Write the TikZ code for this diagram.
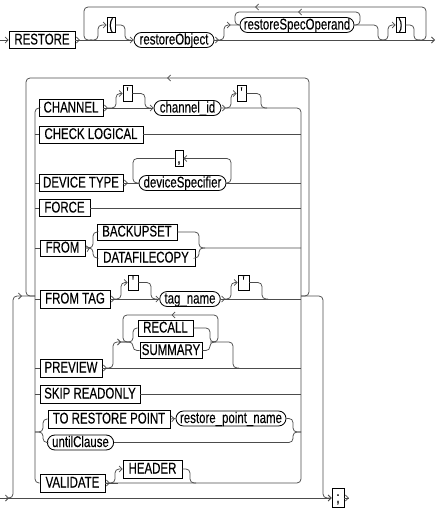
\documentclass[tikz,border=0pt]{standalone}
\usepackage{fontspec}
\setmainfont{Liberation Sans}[FakeStretch=0.74,FakeBold=0.2,Ligatures=TeXOff]
\usetikzlibrary{arrows.meta,shapes.misc,decorations.markings}
\begin{document}
\begin{tikzpicture}[x=1pt,y=-1pt,
  rr/.style={draw=black!70, color=black!70, line width=0.75pt, rounded corners=4pt},
  kw/.style={draw=black, line width=0.85pt, inner xsep=1pt, inner ysep=0pt, text height=11pt, text depth=2pt, minimum height=17pt, font=\fontsize{15.5}{17}\selectfont, text=black},
  sm/.style={kw, minimum height=16pt},
  nt/.style={rounded rectangle, draw=black, line width=0.85pt, inner xsep=1pt, inner ysep=0pt, text height=11pt, text depth=2pt, minimum height=15pt, font=\fontsize{15.5}{17}\selectfont, text=black},
  ar/.style={-{Straight Barb[length=3pt,width=6pt]}},
  chev/.style={postaction={decorate}, decoration={markings, mark=at position 4.5pt with {\arrow{Straight Barb[length=3pt,width=6pt]}}}},
  marr/.style={postaction={decorate}, decoration={markings, mark=at position #1 with {\arrow{Straight Barb[length=3pt,width=6pt]}}}},
]
\useasboundingbox (0,0) rectangle (439,510);

% ---------- top row ----------
\node[kw, minimum width=66pt] (restore) at (42,40) {RESTORE};
\node[sm, minimum width=8pt, minimum height=15pt] (lp) at (111,25) {(};
\node[nt, minimum width=82pt] (obj) at (174,40) {restoreObject};
\node[nt, minimum width=116pt] (spec) at (297,25) {restoreSpecOperand};
\node[sm, minimum width=9pt, minimum height=15pt] (rp) at (400.5,25) {)};
\coordinate (s0) at (0,40);
\coordinate (e0) at (435,40);

\draw[rr, ar] (s0) -- (restore.west);
\draw[rr, chev, ar] (restore.east) -- (obj.west);
\draw[rr, chev, ar] (obj.east) -- (e0);
\draw[rr, marr=0.5] (418,40) -| (426,7) -| (84,40) -- (92,40);
\draw[rr, ar] (90,40) -| (98,25) -- (lp.west);
\draw[rr] (lp.east) -| (125,40) -- (131,40);
\draw[rr, marr=-9pt] (216,40) -| (224,25) -- (spec.west);
\draw[rr, marr=0.5] (spec.east) -| (360,12) -| (235,25) -- (spec.west);
\draw[rr] (spec.east) -| (378,40) -- (384,40);
\draw[rr, ar] (380,40) -| (388,25) -- (rp.west);
\draw[rr] (rp.east) -| (414,40) -- (420,40);

% ---------- lower part: nodes ----------
\node[kw, minimum width=64pt] (channel) at (71,108) {CHANNEL};
\node[sm, minimum width=9pt] (q1) at (127.5,93.5) {'};
\node[nt, minimum width=69pt] (chid) at (187.5,108) {channel\_id};
\node[sm, minimum width=9pt] (q2) at (241.5,93.5) {'};
\node[kw, minimum width=104pt] (chk) at (91,134.5) {CHECK LOGICAL};
\node[kw, minimum width=84pt] (dev) at (81,183) {DEVICE TYPE};
\node[nt, minimum width=89pt] (devs) at (182.5,183) {deviceSpecifier};
\node[sm, minimum width=8pt] (comma) at (179,158.5) {,};
\node[kw, minimum width=51pt] (force) at (64.5,208) {FORCE};
\node[sm, minimum width=45pt] (from) at (62.5,248) {FROM};
\node[sm, minimum width=80pt] (bset) at (137,232) {BACKUPSET};
\node[kw, minimum width=98pt] (dfc) at (146,258) {DATAFILECOPY};
\node[kw, minimum width=70pt, minimum height=18pt] (ftag) at (75,299) {FROM TAG};
\node[sm, minimum width=10pt, minimum height=15pt] (q3) at (133,282.5) {'};
\node[nt, minimum width=60pt] (tag) at (190,299) {tag\_name};
\node[sm, minimum width=11pt, minimum height=15pt] (q4) at (243.5,282.5) {'};
\node[kw, minimum width=62pt, minimum height=18pt] (prev) at (71,368) {PREVIEW};
\node[sm, minimum width=55pt] (recall) at (165.5,328) {RECALL};
\node[sm, minimum width=62pt] (summ) at (171,350.5) {SUMMARY};
\node[kw, minimum width=100pt, minimum height=18pt] (skip) at (90,394) {SKIP READONLY};
\node[kw, minimum width=122pt, minimum height=18pt] (trp) at (109,419) {TO RESTORE POINT};
\node[nt, minimum width=112pt] (rpn) at (231,418.5) {restore\_point\_name};
\node[nt, minimum width=65pt] (until) at (80.5,442.5) {untilClause};
\node[kw, minimum width=65pt, minimum height=18pt] (val) at (72.5,483) {VALIDATE};
\node[kw, minimum width=59pt, minimum height=18pt] (header) at (152.5,469) {HEADER};
\node[kw, minimum width=12pt, minimum height=19pt] (semi) at (338,498) {;};

% ---------- entry / exit / outer loop ----------
\coordinate (s1) at (0,498);
\coordinate (e1) at (349,498);
\draw[rr, marr=9pt, ar] (s1) -- (semi.west);
\draw[rr, marr=-13pt] (6,498) -| (13,296) -- (35,296);
\draw[rr, ar] (301,296) -| (323,498) -- (semi.west);
\draw[rr, chev] (semi.east) -- (e1);
\draw[rr, marr=0.5] (301,296) -| (309,78) -| (26,296) -- (35,296);

% rails
\draw[rr] (channel.west) -| (35,483) -- (val.west);
\draw[rr, chev] (chid.east) -| (301,483) -- (val.east);

% CHANNEL
\draw[rr, chev, ar] (channel.east) -- (chid.west);
\draw[rr, ar] (108,108) -| (116,93.5) -- (q1.west);
\draw[rr] (q1.east) -| (145,108) -- (151,108);
\draw[rr, ar] (226,108) -| (231,93.5) -- (q2.west);
\draw[rr] (q2.east) -| (261,108) -- (267,108);

% CHECK LOGICAL
\draw[rr] (35,134.5) -- (chk.west);
\draw[rr] (chk.east) -- (301,134.5);

% DEVICE TYPE
\draw[rr] (35,183) -- (dev.west);
\draw[rr, chev] (dev.east) -- (devs.west);
\draw[rr] (devs.east) -- (301,183);
\draw[rr, ar] (devs.east) -| (231,158.5) -- (comma.east);
\draw[rr] (comma.west) -| (133,183) -- (devs.west);

% FORCE
\draw[rr] (35,208) -- (force.west);
\draw[rr] (force.east) -- (301,208);

% FROM
\draw[rr] (35,248) -- (from.west);
\draw[rr, chev] (from.east) -| (93,232) -- (bset.west);
\draw[rr] (from.east) -| (93,258) -- (dfc.west);
\draw[rr] (bset.east) -| (199,248) -- (301,248);
\draw[rr] (dfc.east) -| (199,248) -- (205,248);

% FROM TAG
\draw[rr] (35,299) -- (ftag.west);
\draw[rr, chev, ar] (ftag.east) -- (tag.west);
\draw[rr, ar] (115,299) -| (121,282.5) -- (q3.west);
\draw[rr] (q3.east) -| (151,299) -- (157,299);
\draw[rr, chev] (tag.east) -- (301,299);
\draw[rr, ar] (225,299) -| (231,282.5) -- (q4.west);
\draw[rr] (q4.east) -| (262,299) -- (268,299);

% PREVIEW
\draw[rr] (35,368) -- (prev.west);
\draw[rr, chev] (prev.east) -- (301,368);
\draw[rr, ar] (107,368) -| (113,342) -- (121,342);
\draw[rr] (119,342) -| (133,328) -- (recall.west);
\draw[rr] (119,342) -| (133,350.5) -- (summ.west);
\draw[rr] (recall.east) -| (210,342) -| (233,368) -- (239,368);
\draw[rr] (summ.east) -| (210,342) -- (216,342);
\draw[rr, marr=0.5] (210,342) -| (218,315) -| (123,342) -- (129,342);

% SKIP READONLY
\draw[rr] (35,394) -- (skip.west);
\draw[rr] (skip.east) -- (301,394);

% TO RESTORE POINT / untilClause
\draw[rr] (35,432) -| (43,419) -- (trp.west);
\draw[rr] (35,432) -| (43,442.5) -- (until.west);
\draw[rr, chev] (trp.east) -- (rpn.west);
\draw[rr] (rpn.east) -| (293,432) -- (301,432);
\draw[rr] (until.east) -| (293,432) -- (301,432);

% VALIDATE
\draw[rr, chev] (val.east) -- (118,483);
\draw[rr, ar] (110,483) -| (115,469) -- (header.west);
\draw[rr] (header.east) -| (190,483) -- (196,483);
\end{tikzpicture}
\end{document}
